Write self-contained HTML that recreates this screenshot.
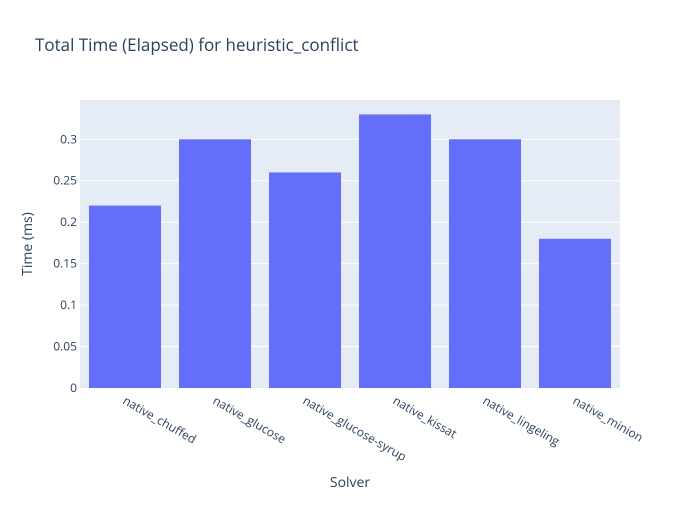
<!DOCTYPE html>
<html><head><meta charset="utf-8"><style>body{margin:0;background:#fff}svg{font-family:"Open Sans","Liberation Sans",sans-serif}</style></head>
<body>
<svg id="c" width="700" height="500" xmlns="http://www.w3.org/2000/svg">
<rect width="700" height="500" fill="#fff"/>
<rect x="80" y="100" width="540" height="288" fill="#e5ecf6"/>
<g id="grid"></g><g id="bars"></g><g id="xt"></g><g id="yt"></g>
<text x="35" y="51" font-size="17" fill="#2a3f5f">Total Time (Elapsed) for heuristic_conflict</text>
<text x="350" y="487" font-size="14" fill="#2a3f5f" text-anchor="middle">Solver</text>
<text x="32" y="244" font-size="14" fill="#2a3f5f" text-anchor="middle" transform="rotate(-90 32 244)">Time (ms)</text>
</svg>
<script>
const categories=["native_chuffed","native_glucose","native_glucose-syrup","native_kissat","native_lingeling","native_minion"];
const values=[0.22,0.3,0.26,0.33,0.3,0.18];
const yTicks=[0,0.05,0.1,0.15,0.2,0.25,0.3];
const yTickLabels=["0","0.05","0.1","0.15","0.2","0.25","0.3"];
const NS="http://www.w3.org/2000/svg";
const x0=80,x1=620,y0=388,y1=100;
const ymax=Math.max(...values)*1.0526;
const y=v=>y0-(v/ymax)*(y0-y1);
const band=(x1-x0)/categories.length;
const xc=i=>x0+band*(i+0.5);
function mk(t,a,p){const e=document.createElementNS(NS,t);for(const k in a)e.setAttribute(k,a[k]);p.appendChild(e);return e;}
const G=document.getElementById('grid'),B=document.getElementById('bars'),XT=document.getElementById('xt'),YT=document.getElementById('yt');
yTicks.forEach((t,i)=>{
 if(t>0){const l=mk('line',{x1:x0,x2:x1,y1:y(t),y2:y(t),stroke:'#fff','stroke-width':1},G);
 
 }
 const tx=mk('text',{x:x0-3,y:y(t)+4,'font-size':12,fill:'#2a3f5f','text-anchor':'end'},YT);
 tx.textContent=yTickLabels[i];
 
 
});
categories.forEach((c,i)=>{
 const w=band*0.8;
 const r=mk('rect',{x:xc(i)-w/2,y:y(values[i]),width:w,height:y0-y(values[i]),fill:'#636efa'},B);
 
 
 const px=xc(i)-3,py=403;
 const t=mk('text',{x:px,y:py,'font-size':12,fill:'#2a3f5f',transform:`rotate(30 ${px} ${py})`},XT);
 t.textContent=c;
 
 
});
</script>
</body></html>
